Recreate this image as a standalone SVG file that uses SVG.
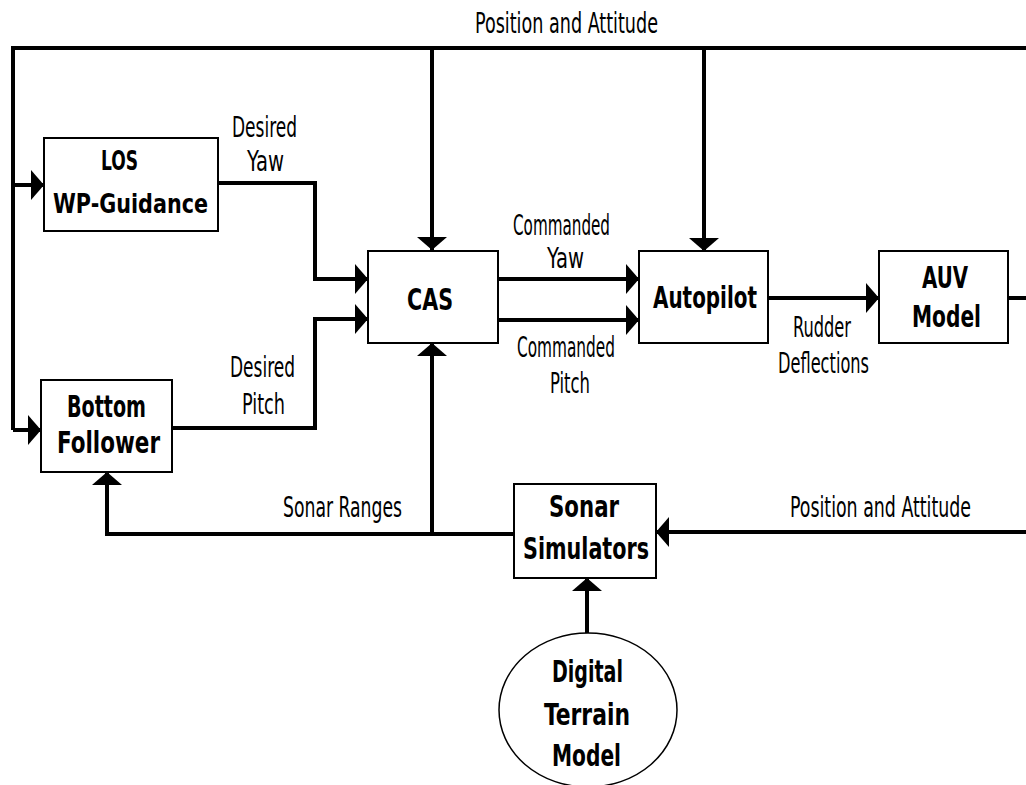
<svg xmlns="http://www.w3.org/2000/svg" width="1026" height="785" viewBox="0 0 1026 785">
<defs>
<style>
.box{fill:#fff;stroke:#000;stroke-width:2}
.c{fill:none;stroke:#000;stroke-width:4}
.lb{font-family:"Liberation Sans Narrow","DejaVu Sans Condensed","Liberation Sans",sans-serif;font-size:29px;fill:#000}
.nd{font-family:"Liberation Sans Narrow","DejaVu Sans Condensed","Liberation Sans",sans-serif;font-size:30px;font-weight:bold;fill:#000}
.sm{font-size:26px}
</style>
<marker id="ah" markerUnits="userSpaceOnUse" markerWidth="14" markerHeight="30" viewBox="0 0 14 30" refX="13" refY="15" orient="auto">
<path d="M0,0 L13,15 L0,30 Z" fill="#000"/>
</marker>
</defs>
<rect width="1026" height="785" fill="#fff"/>
<g id="connectors">
<path class="c" d="M13,430 V48 H1026"/>
<path class="c" d="M13,185 H44" marker-end="url(#ah)"/>
<path class="c" d="M13,430 H41" marker-end="url(#ah)"/>
<path class="c" d="M432,48 V250" marker-end="url(#ah)"/>
<path class="c" d="M704,48 V251" marker-end="url(#ah)"/>
<path class="c" d="M218,183 H315 V279 H368" marker-end="url(#ah)"/>
<path class="c" d="M172,428 H315 V319 H368" marker-end="url(#ah)"/>
<path class="c" d="M498,279 H639" marker-end="url(#ah)"/>
<path class="c" d="M498,320 H639" marker-end="url(#ah)"/>
<path class="c" d="M768,298 H879" marker-end="url(#ah)"/>
<path class="c" d="M1008,298 H1026"/>
<path class="c" d="M1026,532 H656" marker-end="url(#ah)"/>
<path class="c" d="M514,534 H107 V472" marker-end="url(#ah)"/>
<path class="c" d="M432,534 V343" marker-end="url(#ah)"/>
<path class="c" d="M587,633 V578" marker-end="url(#ah)"/>
<text class="lb" x="475" y="33" textLength="183" lengthAdjust="spacingAndGlyphs">Position and Attitude</text>
<text class="lb" x="232" y="137" textLength="65" lengthAdjust="spacingAndGlyphs">Desired</text>
<text class="lb" x="247" y="171" textLength="37" lengthAdjust="spacingAndGlyphs">Yaw</text>
<text class="lb" x="230" y="377" textLength="65" lengthAdjust="spacingAndGlyphs">Desired</text>
<text class="lb" x="242" y="414" textLength="43" lengthAdjust="spacingAndGlyphs">Pitch</text>
<text class="lb" x="283" y="517" textLength="119" lengthAdjust="spacingAndGlyphs">Sonar Ranges</text>
<text class="lb" x="513" y="235" textLength="97" lengthAdjust="spacingAndGlyphs">Commanded</text>
<text class="lb" x="547" y="268" textLength="37" lengthAdjust="spacingAndGlyphs">Yaw</text>
<text class="lb" x="517" y="357" textLength="98" lengthAdjust="spacingAndGlyphs">Commanded</text>
<text class="lb" x="550" y="393" textLength="40" lengthAdjust="spacingAndGlyphs">Pitch</text>
<text class="lb" x="793" y="337" textLength="58" lengthAdjust="spacingAndGlyphs">Rudder</text>
<text class="lb" x="778" y="373" textLength="91" lengthAdjust="spacingAndGlyphs">Deflections</text>
<text class="lb" x="971" y="517" text-anchor="end" textLength="181" lengthAdjust="spacingAndGlyphs">Position and Attitude</text>
</g>
<g id="los">
<rect class="box" x="44" y="138" width="174" height="93"/>
<text class="nd sm" x="101" y="170" textLength="37" lengthAdjust="spacingAndGlyphs">LOS</text>
<text class="nd sm" x="53" y="213" textLength="155" lengthAdjust="spacingAndGlyphs">WP-Guidance</text>
</g>
<g id="cas">
<rect class="box" x="368" y="251" width="130" height="92"/>
<text class="nd" x="407" y="310" textLength="46" lengthAdjust="spacingAndGlyphs">CAS</text>
</g>
<g id="bottom-follower">
<rect class="box" x="41" y="380" width="131" height="92"/>
<text class="nd" x="67" y="417" textLength="79" lengthAdjust="spacingAndGlyphs">Bottom</text>
<text class="nd" x="57" y="453" textLength="103" lengthAdjust="spacingAndGlyphs">Follower</text>
</g>
<g id="autopilot">
<rect class="box" x="639" y="251" width="129" height="92"/>
<text class="nd" x="653" y="308" textLength="104" lengthAdjust="spacingAndGlyphs">Autopilot</text>
</g>
<g id="auv-model">
<rect class="box" x="879" y="251" width="129" height="92"/>
<text class="nd" x="922" y="288" textLength="46" lengthAdjust="spacingAndGlyphs">AUV</text>
<text class="nd" x="912" y="327" textLength="69" lengthAdjust="spacingAndGlyphs">Model</text>
</g>
<g id="sonar-simulators">
<rect class="box" x="514" y="484" width="142" height="94"/>
<text class="nd" x="549" y="517" textLength="70" lengthAdjust="spacingAndGlyphs">Sonar</text>
<text class="nd" x="523" y="559" textLength="126" lengthAdjust="spacingAndGlyphs">Simulators</text>
</g>
<g id="digital-terrain-model">
<ellipse cx="588" cy="710" rx="89" ry="77" fill="#fff" stroke="#000" stroke-width="1.5"/>
<text class="nd" x="552" y="682" textLength="71" lengthAdjust="spacingAndGlyphs">Digital</text>
<text class="nd" x="544" y="725" textLength="86" lengthAdjust="spacingAndGlyphs">Terrain</text>
<text class="nd" x="552" y="766" textLength="69" lengthAdjust="spacingAndGlyphs">Model</text>
</g>
</svg>
